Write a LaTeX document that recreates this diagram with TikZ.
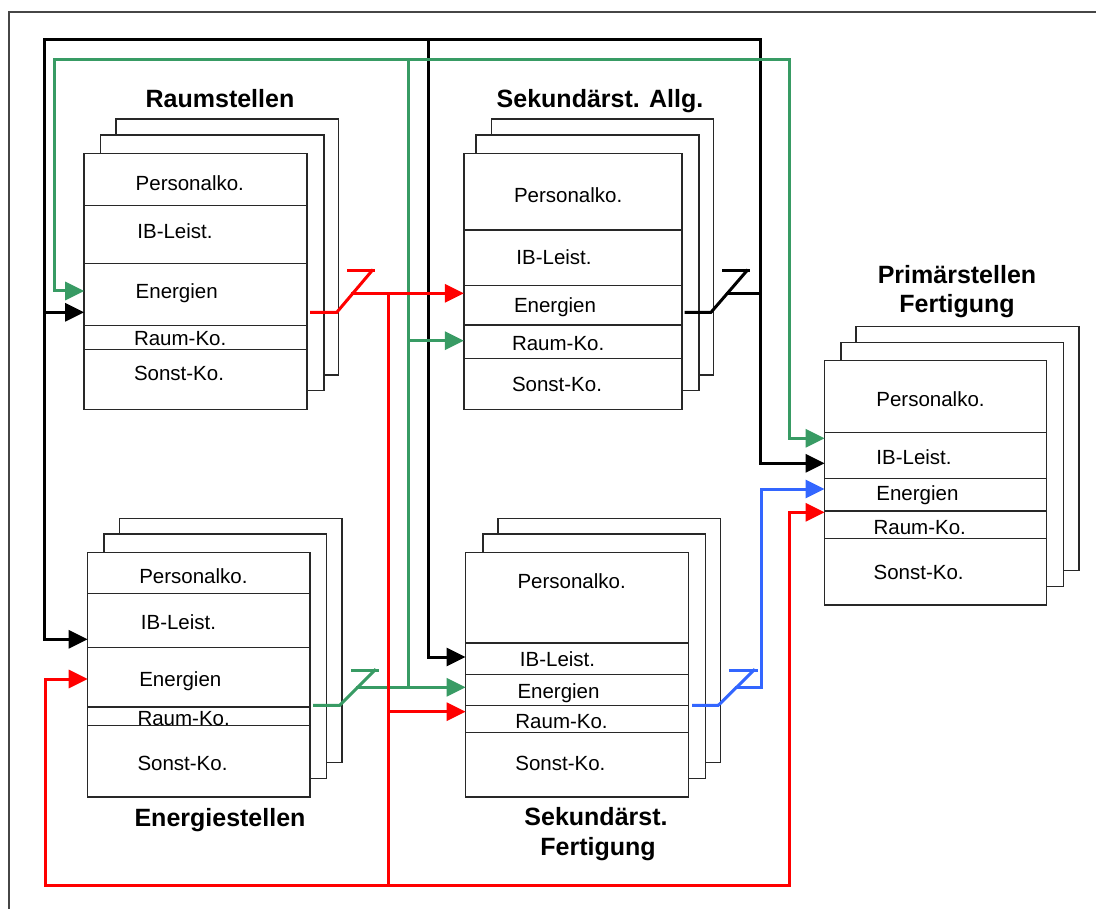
\documentclass[tikz,border=0pt]{standalone}
\usepackage{fontspec}
\setmainfont{Liberation Sans}
\usetikzlibrary{arrows.meta}

\definecolor{flowgreen}{RGB}{56,155,100}
\definecolor{flowred}{RGB}{255,0,0}
\definecolor{flowblue}{RGB}{51,102,255}
\definecolor{framegray}{RGB}{70,70,70}
\definecolor{sheetline}{RGB}{40,40,40}

% one sheet of a stack: name, left, top, right, bottom (y grows downwards)
\newcommand\sheet[5]{%
  \pgfmathsetmacro\sheetW{#4-#2}\pgfmathsetmacro\sheetH{#5-#3}%
  \node[sheetbox, anchor=north west, minimum width=\sheetW pt, minimum height=\sheetH pt] (#1) at (#2,#3) {};}
% horizontal divider inside a front sheet
\newcommand\divline[2]{\draw[divider] (#1.west |- 0,#2) -- (#1.east |- 0,#2);}
% cost-type label: name, left x, baseline y, text
\newcommand\cell[4]{\node[lbl] (#1) at (#2,#3) {#4};}

\begin{document}
\begin{tikzpicture}[x=1pt,y=-1pt,
  sheetbox/.style={draw=sheetline, line width=1.5pt, fill=white, inner sep=0pt, outer sep=0pt},
  divider/.style={draw=sheetline, line width=1.5pt},
  lbl/.style={anchor=base west, inner sep=0pt, font=\fontsize{20.5}{24}\selectfont},
  ttl/.style={anchor=base, inner sep=0pt, font=\fontsize{25}{29}\selectfont\bfseries},
  flow/.style={line width=3pt, line cap=rect},
  arr/.style={flow, -{Triangle[length=19pt,width=18pt]}}]

\useasboundingbox (0,0) rectangle (1096,909);
\fill[white] (0,0) rectangle (1096,909);

% outer frame (its right and bottom sides lie outside the page)
\begin{scope}
  \clip (0,0) rectangle (1096,909);
  \draw[framegray, line width=2pt] (8.5,12.5) rectangle (1120,930);
\end{scope}

% ---------- Raumstellen ----------
\node[ttl] (rsT) at (220,107.8) {Raumstellen};
\sheet{rs3}{115.8}{119}{338.6}{375}
\sheet{rs2}{100.7}{135}{323.9}{390.7}
\sheet{rs}{84.2}{153.7}{307}{409.3}
\divline{rs}{205.7}\divline{rs}{263.3}\divline{rs}{325.7}\divline{rs}{349.3}
\cell{rsA}{135.5}{190.7}{Personalko.}
\cell{rsB}{137.2}{238.4}{IB-Leist.}
\cell{rsC}{135.5}{298.4}{Energien}
\cell{rsD}{133.8}{345.4}{Raum-Ko.}
\cell{rsE}{133.8}{380.4}{Sonst-Ko.}

% ---------- Sekundaerst. Allg. ----------
\node[ttl] (saT) at (600,107.8) {Sekundärst. Allg.};
\sheet{sa3}{491.6}{119}{713.5}{375}
\sheet{sa2}{476}{135}{699}{390.7}
\sheet{sa}{463.9}{153.7}{682}{409.3}
\divline{sa}{230}\divline{sa}{285.7}\divline{sa}{325}\divline{sa}{358.3}
\cell{saA}{513.8}{202.4}{Personalko.}
\cell{saB}{516.2}{264.1}{IB-Leist.}
\cell{saC}{513.8}{312.4}{Energien}
\cell{saD}{511.8}{350.1}{Raum-Ko.}
\cell{saE}{511.8}{391.4}{Sonst-Ko.}

% ---------- Primaerstellen Fertigung ----------
\node[ttl] (pfT1) at (957,283.7) {Primärstellen};
\node[ttl] (pfT2) at (957,312.7) {Fertigung};
\sheet{pf3}{856}{326.7}{1079}{570.7}
\sheet{pf2}{841}{342.3}{1063.6}{586.7}
\sheet{pf}{824.6}{360.7}{1046.5}{605}
\divline{pf}{432.3}\divline{pf}{478.3}\divline{pf}{511}\divline{pf}{538.3}
\cell{pfA}{876.2}{406.4}{Personalko.}
\cell{pfB}{876.2}{464.1}{IB-Leist.}
\cell{pfC}{876.2}{500.7}{Energien}
\cell{pfD}{873.4}{534.7}{Raum-Ko.}
\cell{pfE}{873.4}{579.1}{Sonst-Ko.}

% ---------- Energiestellen ----------
\node[ttl] (esT) at (220,826) {Energiestellen};
\sheet{es3}{119.3}{518.3}{342}{762.7}
\sheet{es2}{104.2}{534}{326.7}{778.7}
\sheet{es}{87.7}{552.7}{310}{797}
\divline{es}{593.7}\divline{es}{647.7}\divline{es}{707}\divline{es}{725.7}
\cell{esA}{139.1}{583.1}{Personalko.}
\cell{esB}{140.7}{629.1}{IB-Leist.}
\cell{esC}{139.1}{686.1}{Energien}
\cell{esD}{137.3}{725.7}{Raum-Ko.}
\cell{esE}{137.3}{770.7}{Sonst-Ko.}

% ---------- Sekundaerst. Fertigung ----------
\node[ttl] (sfT1) at (596,825.4) {Sekundärst.};
\node[ttl] (sfT2) at (598,855.4) {Fertigung};
\sheet{sf3}{498.2}{518.3}{720.7}{762.7}
\sheet{sf2}{482.8}{534}{705.4}{778.7}
\sheet{sf}{465.6}{552.7}{688.3}{797}
\divline{sf}{643}\divline{sf}{674.7}\divline{sf}{705.7}\divline{sf}{732.7}
\cell{sfA}{517.3}{588.4}{Personalko.}
\cell{sfB}{519.7}{666.4}{IB-Leist.}
\cell{sfC}{517.3}{698.1}{Energien}
\cell{sfD}{515.2}{728.1}{Raum-Ko.}
\cell{sfE}{515.2}{770.7}{Sonst-Ko.}

% ---------- bus corners ----------
\coordinate (kTL) at (44,40);
\coordinate (kTM) at (428.8,40);
\coordinate (kTR) at (760.8,40);
\coordinate (gTL) at (54.4,59.3);
\coordinate (gTM) at (408.8,59.3);
\coordinate (gTR) at (789.4,59.3);
\coordinate (rBL) at (45.6,885.7);
\coordinate (rBM) at (388.8,885.7);
\coordinate (rBR) at (789.4,885.7);

% black: output of Sekundaerst. Allg.
\draw[flow] (sa.east |- 0,312.3) ++(4,0) -- (711,312.3) -- (746.9,270.7);
\draw[flow] (723,270.7) -- (748.6,270.7);
\draw[flow] (727.4,293.3) -- (kTR |- 0,293.3);
\draw[arr] (kTR) -- (kTR |- 0,463.3) -- (pf.west |- 0,463.3);
\draw[arr] (kTR) -- (kTL) -- (kTL |- 0,639.3) -- (es.west |- 0,639.3);
\draw[arr] (kTL |- 0,312.3) -- (rs.west |- 0,312.3);
\draw[arr] (kTM) -- (kTM |- 0,657) -- (sf.west |- 0,657);

% green: output of Energiestellen
\draw[flow, flowgreen] (es.east |- 0,705.3) ++(4.7,0) -- (339.6,705.3) -- (374.7,670.3);
\draw[flow, flowgreen] (352.6,670.3) -- (377.9,670.3);
\draw[arr, flowgreen] (357.6,687.3) -- (sf.west |- 0,687.3);
\draw[flow, flowgreen] (gTM |- 0,687.3) -- (gTM);
\draw[arr, flowgreen] (gTR) -- (gTL) -- (gTL |- 0,291) -- (rs.west |- 0,291);
\draw[arr, flowgreen] (gTR) -- (gTR |- 0,438.3) -- (pf.west |- 0,438.3);
\draw[arr, flowgreen] (gTM |- 0,340.7) -- (sa.west |- 0,340.7);

% red: output of Raumstellen
\draw[flow, flowred] (rs.east |- 0,312.3) ++(4.6,0) -- (336.8,312.3) -- (372,270.7);
\draw[flow, flowred] (348,270.7) -- (373.7,270.7);
\draw[arr, flowred] (352.9,293.3) -- (sa.west |- 0,293.3);
\draw[flow, flowred] (rBM |- 0,293.3) -- (rBM);
\draw[arr, flowred] (rBM |- 0,711.7) -- (sf.west |- 0,711.7);
\draw[arr, flowred] (rBR) -- (rBL) -- (rBL |- 0,679) -- (es.west |- 0,679);
\draw[arr, flowred] (rBR) -- (rBR |- 0,512.3) -- (pf.west |- 0,512.3);

% blue: output of Sekundaerst. Fertigung
\draw[flow, flowblue] (sf.east |- 0,705.3) ++(5.3,0) -- (718.3,705.3) -- (753.8,670.3);
\draw[flow, flowblue] (730,670.3) -- (756,670.3);
\draw[arr, flowblue] (736.6,687.3) -- (761.8,687.3) -- (761.8,489) -- (pf.west |- 0,489);

\end{tikzpicture}
\end{document}
